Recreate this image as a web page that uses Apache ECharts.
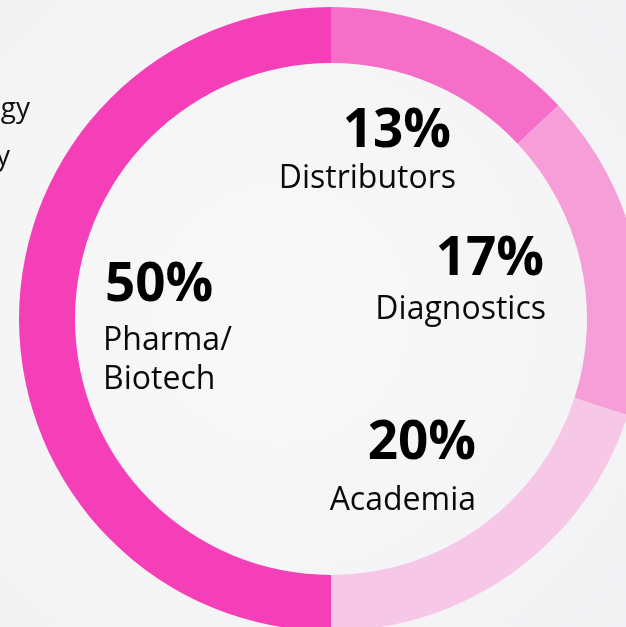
<!DOCTYPE html>
<html>
<head>
<meta charset="utf-8">
<script src="https://cdn.jsdelivr.net/npm/echarts@6/dist/echarts.min.js"></script>
<style>
  html, body { margin: 0; padding: 0; background: #f5f5f6; }
  #chart { width: 626px; height: 627px; }
</style>
</head>
<body>
<div id="chart"></div>
<script>
// Segment data, clockwise from 12 o'clock
const segmentNames = ['Distributors', 'Diagnostics', 'Academia', 'Pharma/\nBiotech'];
const segmentValues = [13, 17, 20, 50];
const segmentColors = ['#f56ec8', '#f59ed8', '#f6c7e6', '#f43fb9'];

// Where each label block sits (x of percentage / name, baselines, alignment)
const labelAnchors = [
  { pctX: 451, nameX: 456, pctY: 149, nameY: 189, align: 'right' },
  { pctX: 544, nameX: 546, pctY: 277, nameY: 320, align: 'right' },
  { pctX: 476, nameX: 476, pctY: 461, nameY: 511, align: 'right' },
  { pctX: 105, nameX: 103, pctY: 303, nameY: 351, align: 'left' }
];

// Text of the page behind the chart, cut off at the left edge
const sideTextLines = ['technology', 'industry'];

const chart = echarts.init(document.getElementById('chart'));

const pctSize = 53;
const nameSize = 32;
const font = '"Open Sans", "Noto Sans", sans-serif';

const graphics = [];
sideTextLines.forEach((line, i) => {
  graphics.push({
    type: 'text',
    style: {
      text: line,
      x: i === 0 ? 30 : 10,
      y: (i === 0 ? 118 : 166) - 0.32 * 28,
      fill: '#111',
      font: '28px ' + font,
      align: 'right',
      verticalAlign: 'middle'
    }
  });
});

segmentNames.forEach((name, i) => {
  const a = labelAnchors[i];
  graphics.push({
    type: 'text',
    style: {
      text: segmentValues[i] + '%',
      x: a.pctX,
      y: a.pctY - 0.32 * pctSize,
      fill: '#000',
      font: 'bold ' + pctSize + 'px ' + font,
      align: a.align,
      verticalAlign: 'middle'
    }
  });
  name.split('\n').forEach((part, j) => {
    graphics.push({
      type: 'text',
      style: {
        text: part,
        x: a.nameX,
        y: a.nameY + j * 39 - 0.32 * nameSize,
        fill: '#0a0a0a',
        font: nameSize + 'px ' + font,
        align: a.align,
        verticalAlign: 'middle'
      }
    });
  });
});

chart.setOption({
  backgroundColor: {
    type: 'radial', x: 0.45, y: 0.5, r: 0.75,
    colorStops: [
      { offset: 0, color: '#f9f9fa' },
      { offset: 1, color: '#f2f2f4' }
    ]
  },
  animation: false,
  graphic: graphics,
  series: [{
    type: 'pie',
    center: [331, 319],
    radius: [256, 312],
    startAngle: 90,
    clockwise: true,
    label: { show: false },
    labelLine: { show: false },
    emphasis: { disabled: true },
    itemStyle: { borderWidth: 0 },
    data: segmentNames.map((name, i) => ({
      name: name,
      value: segmentValues[i],
      itemStyle: { color: segmentColors[i] }
    }))
  }]
});
</script>
</body>
</html>
